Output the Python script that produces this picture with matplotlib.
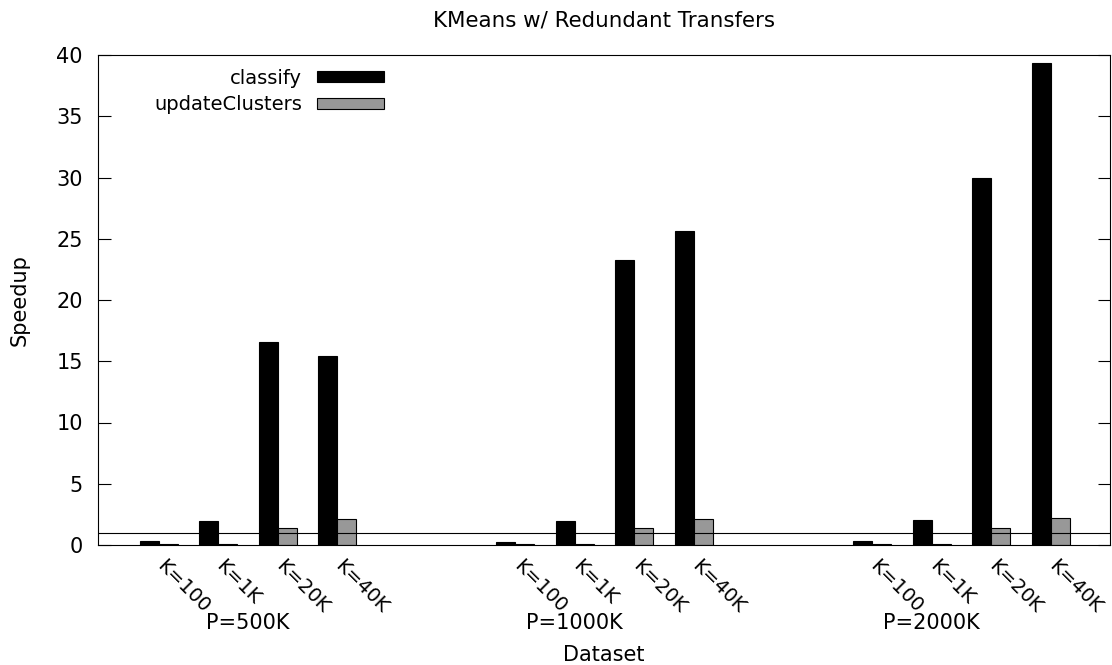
import numpy as np
import matplotlib
matplotlib.use("Agg")
import matplotlib.pyplot as plt
import matplotlib.transforms as mtrans

groups = ["P=500K", "P=1000K", "P=2000K"]
ks = ["K=100", "K=1K", "K=20K", "K=40K"]
classify = [[0.3, 1.95, 16.6, 15.4],
            [0.25, 2.0, 23.25, 25.6],
            [0.3, 2.05, 30.0, 39.35]]
update = [[0.05, 0.1, 1.35, 2.1],
          [0.05, 0.1, 1.35, 2.15],
          [0.05, 0.1, 1.37, 2.17]]

plt.rcParams['font.family'] = 'DejaVu Sans'
fig = plt.figure(figsize=(11.12, 6.65), dpi=100)
ax = fig.add_axes([98 / 1112, 1 - 545 / 665, (1110 - 98) / 1112, (545 - 55) / 665])

w = 0.32
gap = 2
xs, labels = [], []
for g in range(len(groups)):
    base = g * (len(ks) + gap)
    x = base + np.arange(len(ks))
    ax.bar(x - w / 2, classify[g], w, color='black', edgecolor='black', lw=0.8,
           label='classify' if g == 0 else None)
    ax.bar(x + w / 2, update[g], w, color='#989898', edgecolor='black', lw=0.8,
           label='updateClusters' if g == 0 else None)
    xs.extend(x)
    labels.extend(ks)

ax.axhline(1, color='black', lw=0.8)
ax.set_xlim(-1.02, 16.0)
ax.set_ylim(0, 40)
ax.set_yticks(range(0, 41, 5))
ax.tick_params(axis='y', direction='in', length=9, labelsize=15, right=True, pad=11)
ax.set_xticks(xs)
ax.set_xticklabels(labels, rotation=-45, ha='left', va='top', rotation_mode='anchor', fontsize=14)
ax.tick_params(axis='x', length=0, pad=8)
off = mtrans.ScaledTranslation(8 / 100, 0, fig.dpi_scale_trans)
for t in ax.get_xticklabels():
    t.set_transform(t.get_transform() + off)

group_pos = [1.5, 7.0, 13.0]
for gp, name in zip(group_pos, groups):
    ax.text(gp, -6.4, name, ha='center', va='center', fontsize=15)

ax.set_xlabel('Dataset', fontsize=15)
ax.xaxis.set_label_coords(0.5, -0.205)
ax.set_ylabel('Speedup', fontsize=15)
ax.yaxis.set_label_coords(-0.068, 0.5)
fig.text(0.5 * (98 + 1110) / 1112, 1 - 20 / 665, 'KMeans w/ Redundant Transfers',
         ha='center', va='center', fontsize=15.4)

ax.legend(loc='upper left', bbox_to_anchor=(0.04, 1.004), frameon=False, markerfirst=False,
          fontsize=14, handlelength=3.4, handleheight=0.5, labelspacing=0.4, borderpad=0.3,
          handletextpad=0.8)

fig.savefig('out.png', dpi=100)
